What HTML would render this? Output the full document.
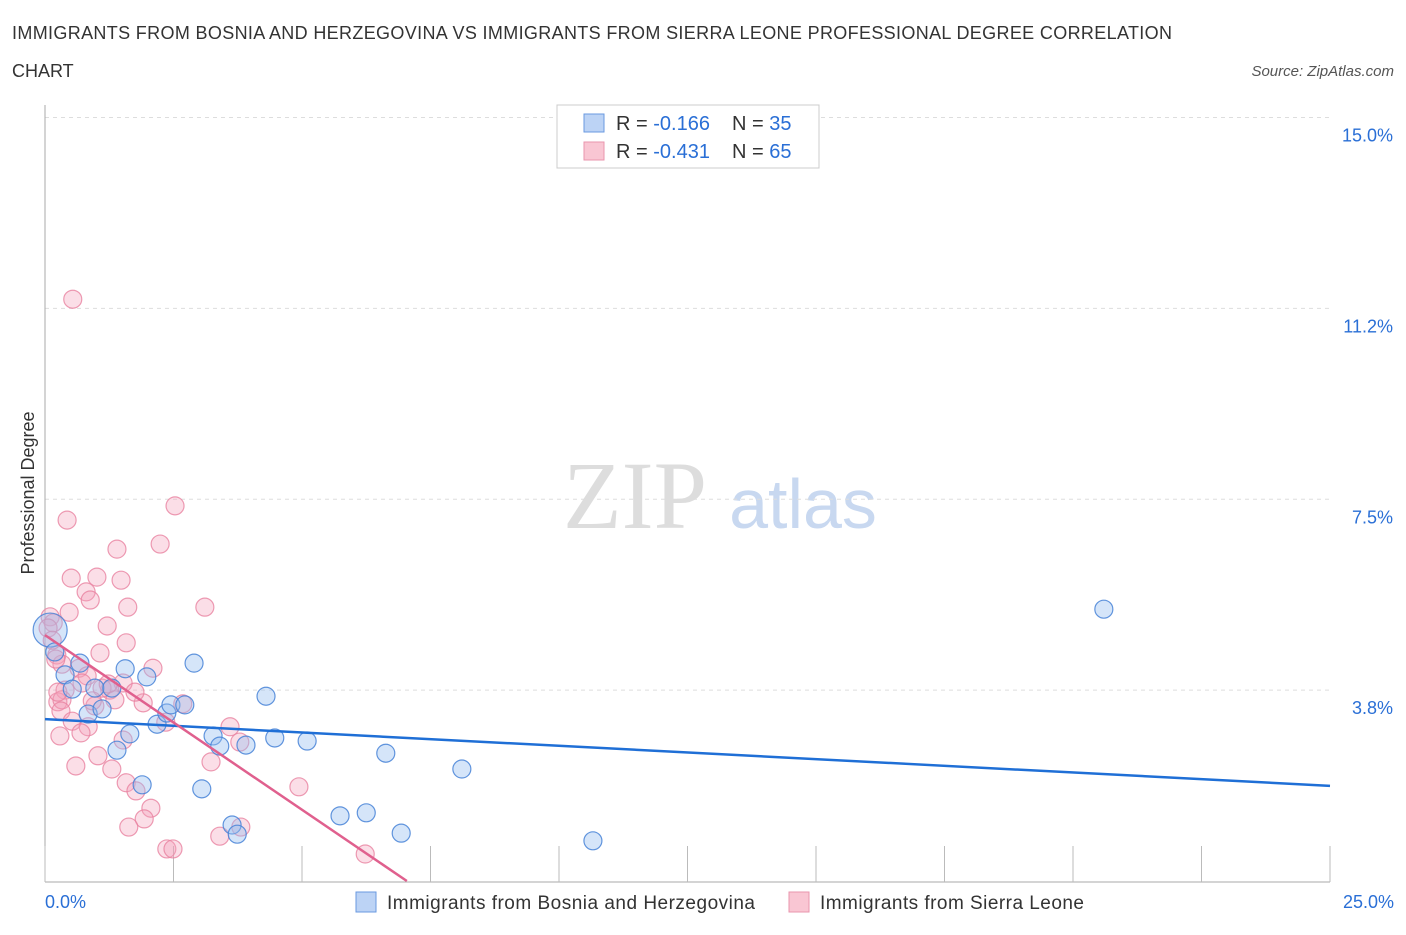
<!DOCTYPE html>
<html><head><meta charset="utf-8"><style>
body{margin:0;background:#fff;font-family:"Liberation Sans",sans-serif}
</style></head><body>
<svg width="1406" height="930" xmlns="http://www.w3.org/2000/svg" id="chart">
<text x="12" y="39" font-size="18" fill="#333" textLength="1160">IMMIGRANTS FROM BOSNIA AND HERZEGOVINA VS IMMIGRANTS FROM SIERRA LEONE PROFESSIONAL DEGREE CORRELATION</text>
<text x="12" y="77" font-size="18" fill="#333">CHART</text>
<text x="1394" y="76" font-size="15" fill="#555" font-style="italic" text-anchor="end">Source: ZipAtlas.com</text>
<text x="635" y="528" font-size="96" fill="#ddd" font-family="Liberation Serif,serif" text-anchor="middle">ZIP</text>
<text x="803" y="528" font-size="70" fill="#c8d8f0" text-anchor="middle">atlas</text>
<text transform="translate(34,493) rotate(-90)" font-size="18" fill="#333" text-anchor="middle">Professional Degree</text>
<g id="grid"></g><g id="marks"></g>
<rect x="557" y="105" width="262" height="63" fill="#fff" stroke="#ccc"/>
<rect x="584" y="114" width="20" height="18" fill="#bcd3f5" stroke="#6a9ae0"/>
<rect x="584" y="142" width="20" height="18" fill="#f9c6d3" stroke="#e995ae"/>
<text x="616" y="130" font-size="20" fill="#333">R = <tspan fill="#2a6fd6">-0.166</tspan></text>
<text x="732" y="130" font-size="20" fill="#333">N = <tspan fill="#2a6fd6">35</tspan></text>
<text x="616" y="158" font-size="20" fill="#333">R = <tspan fill="#2a6fd6">-0.431</tspan></text>
<text x="732" y="158" font-size="20" fill="#333">N = <tspan fill="#2a6fd6">65</tspan></text>
<rect x="356" y="892" width="20" height="20" fill="#bcd3f5" stroke="#6a9ae0"/>
<text x="387" y="909" font-size="19" fill="#333" textLength="368">Immigrants from Bosnia and Herzegovina</text>
<rect x="789" y="892" width="20" height="20" fill="#f9c6d3" stroke="#e995ae"/>
<text x="820" y="909" font-size="19" fill="#333" textLength="264">Immigrants from Sierra Leone</text>
<text x="45" y="908" font-size="18" fill="#2a6fd6">0.0%</text>
<text x="1394" y="908" font-size="18" fill="#2a6fd6" text-anchor="end">25.0%</text>
</svg>
<script>
const yTicks=[3.75,7.5,11.25,15];
const yTickLabels=["3.8%","7.5%","11.2%","15.0%"];
const blueX=[0.10,0.19,0.39,0.68,0.53,0.84,0.97,1.11,1.30,1.56,1.98,1.65,1.40,1.89,2.18,2.37,2.45,2.72,2.90,3.27,3.40,3.91,4.30,4.47,5.10,3.05,3.64,3.74,5.74,6.25,6.63,6.93,8.11,10.66,20.60];
const blueY=[4.93,4.50,4.05,4.28,3.77,3.28,3.79,3.38,3.79,4.17,4.01,2.89,2.57,1.89,3.08,3.30,3.46,3.46,4.28,2.85,2.65,2.67,3.63,2.81,2.75,1.81,1.10,0.92,1.28,1.34,2.51,0.94,2.20,0.79,5.34];
const pinkX=[0.54,0.43,2.53,2.24,1.40,0.51,1.01,1.48,0.80,0.88,1.61,3.11,0.47,0.10,0.16,1.21,1.58,1.07,0.23,2.10,0.66,0.33,0.82,0.72,1.52,1.26,1.11,0.39,0.25,0.33,1.91,0.97,0.31,0.53,0.84,2.35,3.60,0.29,0.70,1.52,1.03,3.23,0.60,1.30,1.58,1.77,4.94,2.06,1.93,1.63,3.81,3.40,2.37,2.49,6.23,0.06,0.14,1.23,0.25,2.68,3.79,0.21,0.92,1.75,1.36];
const pinkY=[11.43,7.09,7.37,6.62,6.52,5.95,5.97,5.91,5.68,5.52,5.38,5.38,5.28,5.19,5.07,5.01,4.68,4.48,4.44,4.18,4.18,4.26,4.03,3.89,3.89,3.75,3.79,3.75,3.52,3.56,3.50,3.44,3.34,3.14,3.03,3.12,3.03,2.85,2.91,2.77,2.46,2.34,2.26,2.20,1.93,1.77,1.85,1.43,1.22,1.06,1.06,0.88,0.63,0.63,0.53,4.97,4.73,3.87,3.71,3.48,2.73,4.36,3.54,3.71,3.56];
const blueTrend=[3.18,1.87];
const pinkTrend=[4.83,0];
const pinkTrendEndX=7.04;
const X=v=>45+v/25*1285, Y=v=>881-v*50.9;
const NS="http://www.w3.org/2000/svg";
function mk(t,a,p){const e=document.createElementNS(NS,t);for(const k in a)e.setAttribute(k,a[k]);p.appendChild(e);return e;}
const g=document.getElementById('grid'),m=document.getElementById('marks');
yTicks.forEach((t,i)=>{
 const l=mk('line',{x1:45,x2:1330,y1:Y(t),y2:Y(t),stroke:'#ddd','stroke-dasharray':'4,4'},g);
 
 
 const tx=mk('text',{x:1393,y:Y(t)+24,'font-size':18,fill:'#2a6fd6','text-anchor':'end'},g);
 tx.textContent=yTickLabels[i];
 
 
});
const ax=mk('line',{x1:45,x2:45,y1:105,y2:882,stroke:'#aaa'},g);


const bx=mk('line',{x1:45,x2:1330,y1:882,y2:882,stroke:'#aaa'},g);


for(let i=0;i<=10;i++){
 const t=mk('line',{x1:X(i*2.5),x2:X(i*2.5),y1:846,y2:882,stroke:'#bbb'},g);
 
 
}
function pts(xs,ys,fill,stroke,name){
 xs.forEach((x,i)=>{
  const r=(i===0&&name==='bosnia-point')?17:9;
  const c=mk('circle',{cx:X(x),cy:Y(ys[i]),r:r,fill:fill,stroke:stroke,'stroke-width':1.2},m);
  
  
 });
}
pts(pinkX,pinkY,'rgba(244,160,185,0.35)','rgba(232,130,160,0.8)','sierra-leone-point');
pts(blueX,blueY,'rgba(150,190,240,0.4)','rgba(70,130,215,0.85)','bosnia-point');
const bl=mk('line',{x1:X(0),y1:Y(blueTrend[0]),x2:X(25),y2:Y(blueTrend[1]),stroke:'#1f6fd6','stroke-width':2.5},m);


const pl=mk('line',{x1:X(0),y1:Y(pinkTrend[0]),x2:X(pinkTrendEndX),y2:Y(pinkTrend[1]),stroke:'#e0608e','stroke-width':2.5},m);


</script>
</body></html>
